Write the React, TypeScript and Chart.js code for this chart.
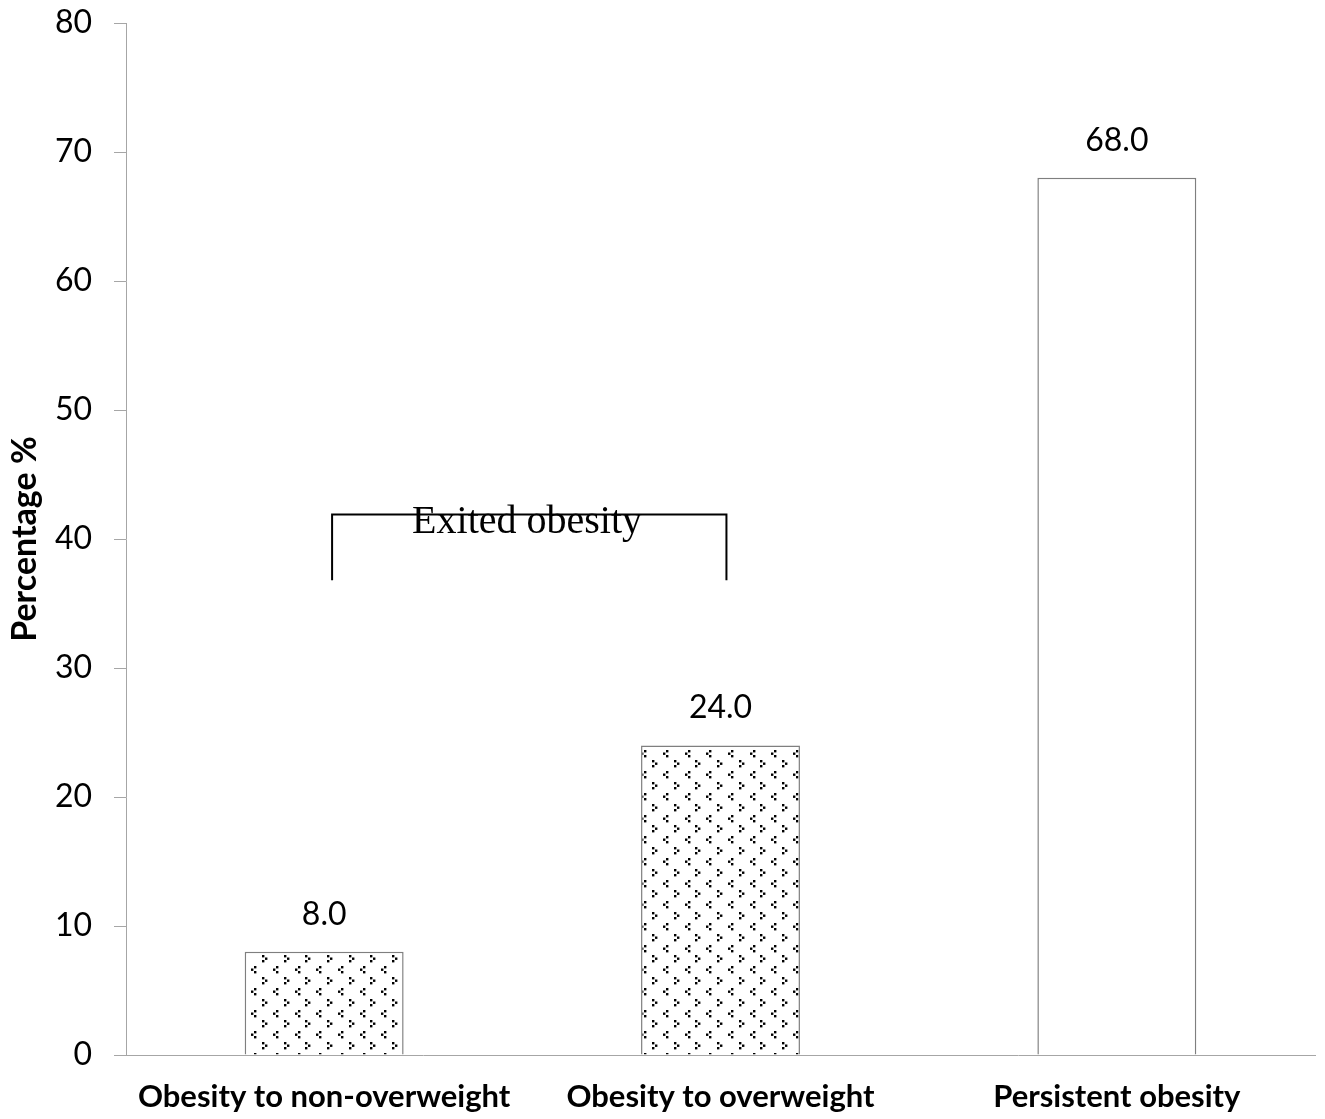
import React, { useEffect, useRef } from "react";
import { Chart, registerables } from "chart.js";

Chart.register(...registerables);

const categories = ["Obesity to non-overweight", "Obesity to overweight", "Persistent obesity"];
const percentages = [8.0, 24.0, 68.0];
const valueLabels = ["8.0", "24.0", "68.0"];
const patterned = [true, true, false];
const yTicks = [0, 10, 20, 30, 40, 50, 60, 70, 80];
const bracketText = "Exited obesity";
// bracket spans category indices 0..1, from value 42 down to 37
const bracketFrom = [0.02, 1.015];
const bracketValues = [41.9, 36.8];
const bracketTextPos = [0.512, 40.45];

const AXIS_GRAY = "#a6a6a6";
const FONT = "Lato";

function makePattern(): CanvasPattern | string {
  const cell = 65 / 3;
  const tile = document.createElement("canvas");
  tile.width = 65;
  tile.height = 65;
  const c = tile.getContext("2d");
  if (!c) return "#fff";
  c.fillStyle = "#ffffff";
  c.fillRect(0, 0, 65, 65);
  c.fillStyle = "#000000";
  const s = 2.4;
  for (let i = 0; i < 3; i++) {
    for (let j = 0; j < 3; j++) {
      const x = Math.round(i * cell + 2);
      const y = Math.round(j * cell + 2);
      // ">" glyph
      c.fillRect(x, y, s, s);
      c.fillRect(x + 3, y + 2.5, s, s);
      c.fillRect(x, y + 5, s, s);
      // "<" glyph offset by half a cell
      const x2 = Math.round(x + cell / 2);
      const y2 = Math.round(y + cell / 2);
      c.fillRect(x2 + 3, y2, s, s);
      c.fillRect(x2, y2 + 2.5, s, s);
      c.fillRect(x2 + 3, y2 + 5, s, s);
    }
  }
  const main = document.createElement("canvas").getContext("2d");
  const p = main ? main.createPattern(tile, "repeat") : null;
  return p || "#fff";
}

export default function App() {
  const ref = useRef<HTMLCanvasElement | null>(null);

  useEffect(() => {
    document.body.style.margin = "0";
    if (!ref.current) return;
    const pattern = makePattern();

    const labelPlugin = {
      id: "valueLabels",
      afterDatasetsDraw(chart: any) {
        const ctx = chart.ctx;
        const meta = chart.getDatasetMeta(0);
        ctx.save();
        ctx.font = `32px ${FONT}`;
        ctx.fillStyle = "#000";
        ctx.textAlign = "center";
        ctx.textBaseline = "alphabetic";
        meta.data.forEach((bar: any, i: number) => {
          ctx.fillText(valueLabels[i], bar.x, bar.y - 27);
        });
        ctx.restore();
      },
    };

    const bracketPlugin = {
      id: "bracket",
      afterDraw(chart: any) {
        const ctx = chart.ctx;
        const xs = chart.scales.x;
        const ys = chart.scales.y;
        const x0 = xs.getPixelForValue(bracketFrom[0]);
        const x1 = xs.getPixelForValue(bracketFrom[1]);
        const yTop = ys.getPixelForValue(bracketValues[0]);
        const yBot = ys.getPixelForValue(bracketValues[1]);
        ctx.save();
        ctx.strokeStyle = "#000";
        ctx.lineWidth = 2;
        ctx.beginPath();
        ctx.moveTo(x0, yBot);
        ctx.lineTo(x0, yTop);
        ctx.lineTo(x1, yTop);
        ctx.lineTo(x1, yBot);
        ctx.stroke();
        ctx.font = `40px "Liberation Serif"`;
        ctx.fillStyle = "#000";
        ctx.textAlign = "center";
        ctx.textBaseline = "alphabetic";
        ctx.fillText(
          bracketText,
          xs.getPixelForValue(bracketTextPos[0]),
          ys.getPixelForValue(bracketTextPos[1])
        );
        ctx.restore();
      },
    };

    const chart = new Chart(ref.current, {
      type: "bar",
      data: {
        labels: categories,
        datasets: [
          {
            data: percentages,
            backgroundColor: patterned.map((p) => (p ? pattern : "#ffffff")) as any,
            borderColor: "#7f7f7f",
            borderWidth: 1.5,
            categoryPercentage: 1,
            barPercentage: 0.401,
          },
        ],
      },
      options: {
        animation: false,
        responsive: false,
        devicePixelRatio: 1,
        layout: { padding: { top: 23, right: 10, left: 0, bottom: 0 } },
        plugins: { legend: { display: false }, tooltip: { enabled: false } },
        scales: {
          x: {
            grid: { display: false, drawTicks: false },
            border: { display: true, color: AXIS_GRAY, width: 1 },
            ticks: {
              color: "#000",
              font: { family: FONT, size: 31, weight: "bold" },
              padding: 23,
              maxRotation: 0,
              autoSkip: false,
            },
            afterFit(scale: any) {
              scale.height = 64;
            },
          },
          y: {
            min: 0,
            max: 80,
            afterBuildTicks(scale: any) {
              scale.ticks = yTicks.map((v) => ({ value: v }));
            },
            grid: {
              display: true,
              drawOnChartArea: false,
              drawTicks: true,
              tickLength: 12,
              color: AXIS_GRAY,
            },
            border: { display: true, color: AXIS_GRAY, width: 1 },
            ticks: {
              color: "#000",
              font: { family: FONT, size: 32 },
              padding: 22,
            },
            title: {
              display: true,
              text: "Percentage %",
              color: "#000",
              font: { family: FONT, size: 34, weight: "bold" },
              padding: { top: 5, bottom: 0 },
            },
            afterFit(scale: any) {
              scale.width = 126;
              scale.paddingTop = 0;
              scale.paddingBottom = 0;
            },
          },
        },
      },
      plugins: [labelPlugin, bracketPlugin],
    });
    return () => chart.destroy();
  }, []);

  return (
    <div style={{ width: 1325, height: 1119, background: "#fff" }}>
      <canvas ref={ref} width={1325} height={1119} style={{ display: "block" }} />
    </div>
  );
}
